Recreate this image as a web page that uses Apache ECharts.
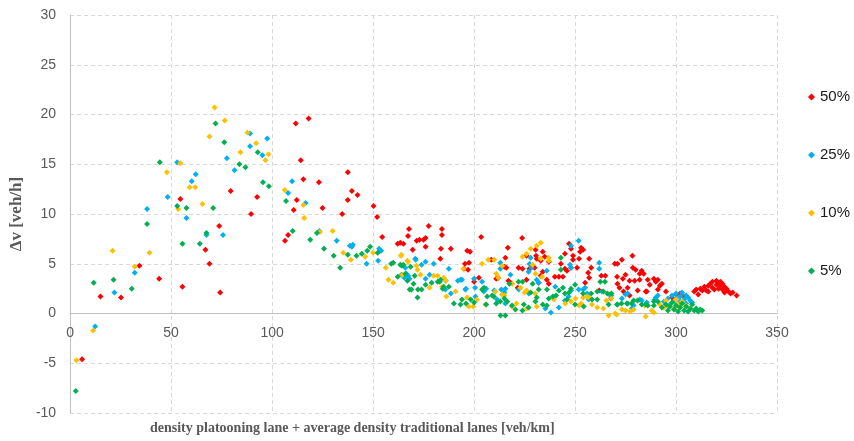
<!DOCTYPE html>
<html>
<head>
<meta charset="utf-8">
<script src="https://cdn.jsdelivr.net/npm/echarts@6/dist/echarts.min.js"></script>
<style>
  html, body { margin: 0; padding: 0; background: #ffffff; }
  #chart { width: 854px; height: 441px; }
</style>
</head>
<body>
<div id="chart"></div>
<script>
// Speed difference vs. combined density, one series per platooning share.
const seriesNames = ['50%', '25%', '10%', '5%'];
const seriesColors = ['#FF0000', '#00B0F0', '#FFC000', '#00B050'];

// [density (veh/km), Δv (veh/h)]
const share50 = [
  [5.9,-4.6],[15.0,1.7],[25.2,1.6],[34.3,4.8],[44.1,3.5],[54.6,11.5],[55.6,2.7],[67.0,6.4],[69.0,5.0],[73.8,8.8],
  [74.3,2.1],[79.5,12.3],[89.6,10.0],[92.6,11.7],[106.4,7.3],[107.9,7.9],[110.7,10.4],[111.7,19.1],[112.2,11.4],[114.2,15.4],
  [115.5,13.5],[118.1,19.6],[123.2,13.2],[125,10.6],[134.7,10.0],[137.5,14.2],[137.5,11.4],[139.5,12.3],[142.3,11.9],[150.2,10.8],
  [152,9.7],[154.5,7.7],[162.2,7.0],[163.5,7.1],[165,7.0],[167.3,7.8],[167.8,8.5],[169.6,6.4],[171.6,7.3],[173,7.4],
  [175,7.4],[176,7.6],[176,6.7],[177.5,8.8],[183.3,5.5],[183.6,6.5],[184.1,8.5],[184.1,7.9],[188.5,6.5],[195,4.5],
  [195.5,5.0],[196.6,6.3],[197,4.4],[198,6.2],[197.5,5.1],[200,3.2],[202.4,3.6],[203.5,7.7],[208.5,5.4],[211,3.5],
  [212,3.6],[215,4.7],[215.5,5.6],[216.7,6.6],[216,4.6],[217,3.3],[218,3.1],[221.6,2.6],[222,4.6],[223.8,7.6],
  [224,4.5],[226,5.8],[226,3.4],[227.4,4.5],[229.2,4.7],[230,4.6],[230.7,5.8],[230.5,6.4],[231,5.5],[232,3.1],
  [233,5.3],[233,3.8],[234,6.2],[234,4.2],[235,5.7],[236,3.4],[237,5.2],[237,3.0],[240,3.7],[242,3.7],
  [243,5.0],[244,3.7],[245,6.0],[245,4.5],[246,4.3],[247,7.0],[248,6.5],[248,4.6],[249,5.8],[249,5.4],
  [251,4.6],[252,5.5],[252.5,6.2],[253,6.6],[254,6.4],[255,3.1],[256.5,4.1],[257,3.6],[257,5.5],[258,4.6],
  [262,2.3],[263,3.8],[265,3.8],[267.8,1.5],[269.7,5.0],[270.8,3.7],[271,3.0],[271,5.0],[272,2.6],[273.2,5.4],
  [273.7,3.5],[274,2.2],[275,3.9],[276,2.6],[277,3.3],[277,1.8],[278.4,5.8],[278.6,4.6],[279.5,3.3],[280,4.4],
  [281,2.3],[282,3.4],[282,4.0],[283,4.3],[284,4.0],[285,2.2],[285.5,2.2],[286,3.4],[287,2.9],[289,3.5],
  [290,3.2],[291,3.4],[291,2.4],[292,2.8],[293,3.0],[295,2.2],[298,1.6],[300,1.9],[302,2.0],[304,1.7],
  [309,2.2],[310,2.4],[311,1.9],[312,2.5],[313,2.3],[314,2.7],[315,2.3],[316,2.8],[316,2.2],[317,3.0],
  [318,2.6],[318,3.2],[319,2.4],[320,2.9],[320,3.3],[321,3.1],[321,2.5],[322,2.8],[322,3.2],[323,3.0],
  [323,2.4],[324,2.7],[324,2.1],[325,2.5],[326,2.2],[327,2.0],[328,2.1],[330,1.8]
];

const share25 = [
  [12.4,-1.3],[21.9,2.1],[32.0,4.1],[38.1,10.5],[48.3,11.7],[53.0,15.2],[57.6,9.6],[60.2,13.3],[62.2,14.0],[67.5,7.9],
  [75.7,7.9],[77.6,15.6],[81.4,14.4],[89.1,18.1],[89.1,16.8],[95.2,15.9],[97.6,17.6],[107.9,12.1],[109.9,13.3],[116.6,11.1],
  [123.4,8.3],[132,7.3],[138.5,6.8],[139.5,6.7],[140,6.9],[146.8,5.0],[152.5,5.3],[153,6.5],[154,6.3],[164,3.9],
  [165.5,3.6],[166.5,4.0],[167.4,3.8],[168,3.5],[170.9,5.5],[166,4.6],[171.1,5.4],[174,4.9],[176,5.2],[180,5.0],
  [176,3.5],[178,3.9],[187.5,4.5],[186,3.3],[188.5,2.0],[192,3.3],[194,3.4],[196,2.5],[200,3.5],[200.5,2.6],
  [204,3.2],[206,2.5],[210,2.3],[213,5.1],[213,4.5],[213.5,2.4],[214.5,1.9],[215,2.1],[215.5,1.0],[218,3.9],
  [227,4.2],[228,5.6],[228.5,4.6],[227.5,5.0],[231,3.4],[232,3.1],[236,4.3],[238,0.1],[242,0.6],[245,1.3],
  [247.5,4.9],[248,4.6],[248,2.3],[248,6.8],[251.8,7.3],[254,2.4],[255,2.6],[256,2.0],[262,5.1],[262,4.5],
  [267,1.9],[268,1.8],[275,1.9],[276,2.0],[279,0.8],[282,1.4],[283,1.3],[285.5,1.1],[289.5,1.4],[290,1.6],
  [291,1.8],[294,1.2],[296,1.5],[297,0.9],[298,1.8],[299,1.2],[300,2.0],[300,1.5],[301,0.8],[302,1.7],
  [302,1.2],[303,2.1],[304,1.4],[305,1.8],[305,1.0],[306,1.6],[307,1.3],[308,1.1],
  [185.8,2.4],[193.3,3.4],[195.7,2.4],[200.7,1.7],[204.8,2.2],[211.4,1.4],[215.5,2.5],[222.1,2.4],[227.1,2.0],[235.3,0.5],
  [240.2,2.7],[246.8,1.7],[251.8,2.4],[256.8,1.4],[263.3,2.2],[273.2,1.5],[278.1,0.5]
];

const share10 = [
  [3.1,-4.7],[11.4,-1.7],[21.0,6.3],[32.0,4.7],[39.3,6.1],[47.9,14.2],[53.5,10.5],[54.6,15.1],[59.2,12.7],[61.9,12.7],
  [65.5,11.0],[69.0,17.8],[71.5,20.7],[76.6,19.4],[84.3,16.2],[87.8,18.2],[92.1,17.1],[96.7,15.4],[98.2,16.0],[106.3,12.4],
  [115.5,10.9],[115.9,9.6],[123.7,8.2],[130,8.3],[135.2,6.1],[139,5.4],[146.1,5.7],[150,6.1],[156.3,4.6],[157.6,3.4],
  [160,3.1],[163.8,5.8],[164,5.9],[164.5,3.9],[167,5.3],[167.3,5.2],[171.5,4.8],[172,4.4],[173.5,3.9],[178,2.6],
  [180,3.8],[182,3.8],[185,3.6],[186,3.3],[186.3,1.7],[194.7,4.5],[196.5,1.6],[199.6,0.7],[203.9,5.0],[207,5.4],
  [210,5.4],[211,4.0],[212,3.6],[213.8,1.9],[215,1.8],[214,4.8],[219,3.0],[221,1.0],[223,2.6],[224,5.7],
  [225,2.1],[226,2.3],[226,6.0],[228,6.5],[229,4.9],[230.3,2.0],[231,0.7],[231,6.8],[233,7.1],[233,5.5],
  [237,5.3],[237,5.6],[248,1.2],[252,0.8],[253,1.0],[254,1.6],[256,1.7],[257,1.6],[261,0.6],[264,0.5],
  [265.5,1.3],[268,1.5],[270.6,-0.1],[275,0.3],[279,0.4],[284.5,0.8],[285,-0.3],[288,0.3],[289,0.1],[292,0.9],
  [294,0.6],[295,1.3],[296,0.7],[298,1.1],[299,0.5],[300,1.4],[301,0.9],[302,0.6],[303,1.2],[305,0.8],
  [184.2,2.7],[190.8,2.2],[197.4,0.7],[201.5,1.4],[205.6,0.9],[210.6,2.2],[218.8,0.7],[226.2,0.5],[230.4,4.0],[233.7,3.7],
  [239.5,1.4],[245.2,1.0],[250.2,1.5],[258.4,0.9],[266.6,-0.2],[269.9,0.0],[273.2,0.4],[277.3,0.2]
];

const share5 = [
  [2.8,-7.8],[11.7,3.1],[21.5,3.4],[30.5,2.5],[38.1,9.0],[44.4,15.2],[53.0,10.8],[55.6,7.0],[57.6,10.6],[64.2,7.0],
  [67.5,8.1],[70.8,10.6],[72.0,19.1],[76.3,17.2],[83.8,15.0],[86.8,14.7],[92.9,16.2],[95.5,13.2],[98.4,12.8],[106.9,11.3],
  [110.2,8.3],[118.9,7.4],[122.2,8.1],[125.7,6.5],[130.5,5.8],[133.7,4.6],[137.5,5.9],[141.8,5.8],[144.4,6.0],[147.1,6.3],
  [148.5,6.7],[152.3,6.1],[159,5.0],[160,5.1],[162.2,3.7],[163.5,4.9],[164.3,4.8],[165,4.9],[166,4.0],[167,3.3],
  [168.1,2.4],[168.6,4.7],[169,2.4],[170,3.0],[170.6,3.8],[172,1.6],[172.2,2.4],[174,2.4],[176,2.9],[179,3.1],
  [182,3.2],[183,3.2],[184.5,2.5],[185,2.7],[194,1.4],[196,1.0],[200,1.1],[204,2.4],[205,2.6],[206,0.9],
  [209,1.8],[211,1.0],[213,1.2],[215,1.5],[215.5,-0.2],[217.5,3.0],[218.8,0.8],[222,3.2],[224,3.2],[224,0.3],
  [227,0.6],[228,2.1],[229,3.0],[231,1.6],[232,2.4],[234,0.9],[236,0.8],[237,1.5],[239,1.7],[242,2.3],
  [243,5.6],[243,4.4],[244,2.6],[245,2.0],[247,2.1],[248,2.5],[250,2.9],[254,2.0],[258,2.0],[261,1.4],
  [261,2.2],[264,2.2],[264.8,3.2],[266,2.0],[268,2.0],[271,0.9],[273,1.0],[276,1.0],[278,1.0],[279,1.3],
  [281,1.3],[283,0.9],[285,0.9],[286,0.8],[289,0.8],[289,1.2],[291,1.2],[293,0.6],[295,0.9],[296,0.3],
  [297,0.7],[298,1.1],[299,0.4],[300,0.8],[301,0.2],[302,0.6],[303,1.0],[304,0.3],[305,0.7],[306,0.2],
  [307,0.5],[308,0.9],[309,0.3],[310,0.5],[311,0.2],[312,0.4],[313,0.3],
  [183.4,3.4],[187.5,2.7],[190,1.0],[193.3,0.9],[198.3,1.4],[206.5,1.7],[209.8,1.7],[213.1,-0.2],[216.4,1.2],[220.5,0.4],
  [224.6,0.9],[230.4,1.2],[236.1,2.4],[240.6,1.8],[246,1.4],[250,0.9],[254.3,0.7],[258.4,1.4],[262.5,3.2],[266.6,0.9],
  [270.8,0.9],[275.7,1.0]
];

const seriesData = [share50, share25, share10, share5];

const xTitle = 'density platooning lane + average density traditional lanes [veh/km]';
const yTitle = 'Δv [veh/h]';

// y range and the pixel height of the plot, used to lift the x axis onto Δv = 0
const yMin = -10, yMax = 30;
const gridTop = 15, gridBottom = 28, chartHeight = 441;
const plotHeight = chartHeight - gridTop - gridBottom;
const zeroLift = plotHeight * (0 - yMin) / (yMax - yMin);

const chart = echarts.init(document.getElementById('chart'), null, { renderer: 'canvas' });

const gridLine = { show: true, lineStyle: { type: [4, 3], color: '#d9d9d9', width: 1 } };
const axisText = { color: '#595959', fontSize: 14, fontFamily: 'Liberation Sans, Arial, sans-serif' };

chart.setOption({
  animation: false,
  backgroundColor: '#ffffff',
  title: {
    text: xTitle,
    left: 150,
    top: 421,
    padding: 0,
    textStyle: {
      fontFamily: 'Liberation Serif, Times New Roman, serif',
      fontWeight: 'bold',
      fontSize: 14,
      color: '#595959'
    }
  },
  grid: { left: 69, right: 77, top: gridTop, bottom: gridBottom },
  legend: {
    orient: 'vertical',
    left: 803,
    top: 83,
    itemWidth: 7,
    itemHeight: 7,
    itemGap: 40,
    icon: 'diamond',
    textStyle: { fontSize: 15, lineHeight: 18, color: '#1a1a1a', fontFamily: 'Liberation Sans, Arial, sans-serif' },
    data: seriesNames
  },
  xAxis: {
    type: 'value',
    min: 0,
    max: 350,
    interval: 50,
    offset: -zeroLift,
    axisLine: { show: true, onZero: false, lineStyle: { color: '#bfbfbf', width: 1 } },
    axisTick: { show: false },
    axisLabel: Object.assign({ margin: 13 }, axisText),
    splitLine: gridLine
  },
  yAxis: {
    type: 'value',
    min: yMin,
    max: yMax,
    interval: 5,
    name: yTitle,
    nameLocation: 'middle',
    nameRotate: 90,
    nameGap: 38,
    nameTextStyle: {
      fontFamily: 'Liberation Serif, Times New Roman, serif',
      fontWeight: 'bold',
      fontSize: 17,
      color: '#595959'
    },
    axisLine: { show: true, onZero: false, lineStyle: { color: '#bfbfbf', width: 1 } },
    axisTick: { show: false },
    axisLabel: Object.assign({ margin: 14 }, axisText),
    splitLine: gridLine
  },
  series: seriesData.map((d, i) => ({
    name: seriesNames[i],
    type: 'scatter',
    symbol: 'diamond',
    symbolSize: 6,
    silent: true,
    itemStyle: { color: seriesColors[i], opacity: 1 },
    data: d
  }))
});
</script>
</body>
</html>
